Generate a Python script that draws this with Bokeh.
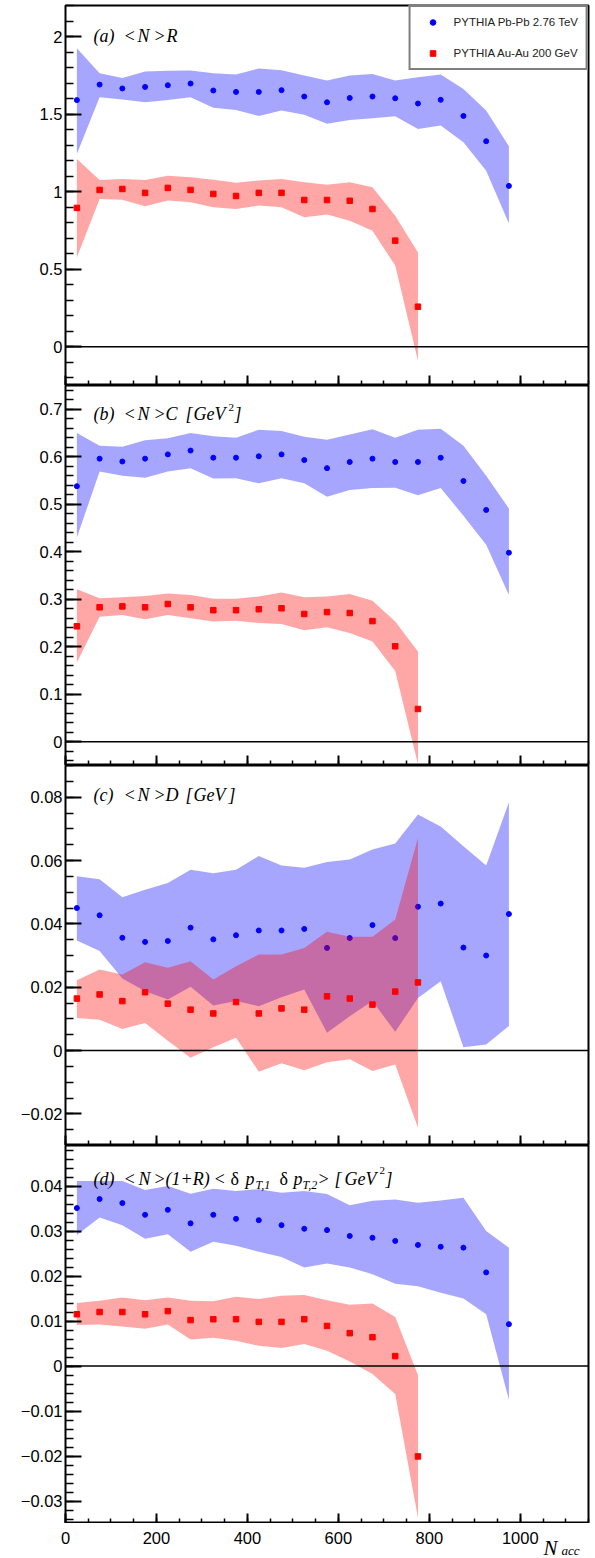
import numpy as np
from bokeh.plotting import figure
from bokeh.models import Range1d, FixedTicker, Label, Legend, LegendItem, Span
from bokeh.layouts import column
from bokeh.embed import file_html
from bokeh.resources import INLINE
from bokeh.core.properties import value

# ---------------- data ----------------
n_pb = [25, 75, 125, 175, 225, 275, 325, 375, 425, 475, 525, 575, 625, 675, 725, 775, 825, 875, 925, 975]
n_au = [25, 75, 125, 175, 225, 275, 325, 375, 425, 475, 525, 575, 625, 675, 725, 775]

# (a) <N>R
pb_R = [1.59, 1.69, 1.665, 1.675, 1.686, 1.697, 1.652, 1.643, 1.643, 1.654, 1.613, 1.576, 1.604, 1.613, 1.602, 1.568, 1.592, 1.488, 1.325, 1.037]
pb_R_hi = [1.925, 1.763, 1.733, 1.774, 1.779, 1.781, 1.763, 1.755, 1.794, 1.783, 1.748, 1.716, 1.748, 1.759, 1.716, 1.737, 1.755, 1.662, 1.523, 1.292]
pb_R_lo = [1.243, 1.608, 1.594, 1.576, 1.591, 1.608, 1.540, 1.527, 1.488, 1.523, 1.495, 1.437, 1.462, 1.473, 1.486, 1.404, 1.426, 1.318, 1.135, 0.795]
au_R = [0.895, 1.011, 1.017, 0.992, 1.024, 1.011, 0.985, 0.972, 0.992, 0.992, 0.946, 0.946, 0.941, 0.888, 0.684, 0.258]
au_R_hi = [1.211, 1.075, 1.082, 1.075, 1.103, 1.092, 1.077, 1.058, 1.071, 1.082, 1.060, 1.045, 1.060, 1.028, 0.845, 0.608]
au_R_lo = [0.576, 0.953, 0.948, 0.905, 0.942, 0.931, 0.899, 0.888, 0.910, 0.899, 0.834, 0.852, 0.813, 0.748, 0.523, -0.090]

# (b) <N>C
pb_C = [0.538, 0.596, 0.590, 0.596, 0.605, 0.613, 0.598, 0.598, 0.601, 0.605, 0.593, 0.576, 0.589, 0.596, 0.589, 0.589, 0.598, 0.549, 0.488, 0.398]
pb_C_hi = [0.650, 0.623, 0.621, 0.635, 0.639, 0.650, 0.643, 0.640, 0.657, 0.654, 0.642, 0.636, 0.647, 0.658, 0.640, 0.657, 0.659, 0.623, 0.560, 0.491]
pb_C_lo = [0.430, 0.569, 0.560, 0.556, 0.569, 0.576, 0.554, 0.555, 0.544, 0.555, 0.544, 0.516, 0.530, 0.534, 0.535, 0.519, 0.534, 0.476, 0.415, 0.309]
au_C = [0.243, 0.283, 0.285, 0.283, 0.290, 0.283, 0.277, 0.277, 0.279, 0.281, 0.269, 0.273, 0.271, 0.254, 0.201, 0.069]
au_C_hi = [0.321, 0.302, 0.304, 0.307, 0.312, 0.309, 0.301, 0.301, 0.306, 0.314, 0.304, 0.306, 0.311, 0.297, 0.253, 0.190]
au_C_lo = [0.167, 0.263, 0.267, 0.258, 0.267, 0.260, 0.253, 0.255, 0.250, 0.248, 0.235, 0.241, 0.229, 0.211, 0.149, -0.047]

# (c) <N>D
pb_D = [0.0450, 0.0427, 0.0356, 0.0343, 0.0346, 0.0388, 0.0351, 0.0364, 0.0379, 0.0379, 0.0384, 0.0324, 0.0355, 0.0396, 0.0355, 0.0454, 0.0464, 0.0325, 0.0300, 0.0431]
pb_D_hi = [0.0550, 0.0541, 0.0484, 0.0508, 0.0529, 0.0571, 0.0560, 0.0571, 0.0614, 0.0584, 0.0577, 0.0595, 0.0603, 0.0635, 0.0654, 0.0745, 0.0707, 0.0645, 0.0584, 0.0784]
pb_D_lo = [0.0347, 0.0314, 0.0227, 0.0187, 0.0161, 0.0201, 0.0142, 0.0156, 0.0140, 0.0168, 0.0193, 0.0056, 0.0108, 0.0156, 0.0059, 0.0166, 0.0219, 0.0010, 0.0019, 0.0077]
au_D = [0.0164, 0.0177, 0.0156, 0.0184, 0.0148, 0.0129, 0.0117, 0.0153, 0.0117, 0.0133, 0.0129, 0.0171, 0.0164, 0.0145, 0.0186, 0.0215]
au_D_hi = [0.0222, 0.0256, 0.0240, 0.0279, 0.0261, 0.0282, 0.0224, 0.0266, 0.0303, 0.0303, 0.0324, 0.0375, 0.0359, 0.0359, 0.0414, 0.0671]
au_D_lo = [0.0103, 0.0097, 0.0068, 0.0087, 0.0031, -0.0023, 0.0010, 0.0040, -0.0067, -0.0040, -0.0062, -0.0037, -0.0028, -0.0065, -0.0044, -0.0244]

# (d) <N>(1+R)<dpT1 dpT2>
pb_P = [0.0351, 0.0371, 0.0362, 0.0336, 0.0347, 0.0317, 0.0336, 0.0327, 0.0324, 0.0313, 0.0305, 0.0302, 0.0289, 0.0285, 0.0278, 0.0269, 0.0265, 0.0263, 0.0208, 0.0093]
pb_P_hi = [0.0411, 0.0411, 0.0411, 0.0391, 0.0400, 0.0383, 0.0394, 0.0389, 0.0393, 0.0385, 0.0389, 0.0382, 0.0357, 0.0367, 0.0370, 0.0363, 0.0368, 0.0374, 0.0300, 0.0263]
pb_P_lo = [0.0291, 0.0330, 0.0313, 0.0283, 0.0293, 0.0254, 0.0276, 0.0267, 0.0254, 0.0242, 0.0219, 0.0228, 0.0219, 0.0204, 0.0183, 0.0177, 0.0163, 0.0150, 0.0115, -0.0075]
au_P = [0.0115, 0.0120, 0.0120, 0.0115, 0.0122, 0.0102, 0.0104, 0.0104, 0.0098, 0.0098, 0.0104, 0.0089, 0.0073, 0.0064, 0.0022, -0.0201]
au_P_hi = [0.0140, 0.0145, 0.0152, 0.0146, 0.0152, 0.0145, 0.0144, 0.0154, 0.0149, 0.0156, 0.0158, 0.0146, 0.0136, 0.0139, 0.0109, -0.0020]
au_P_lo = [0.0091, 0.0092, 0.0088, 0.0083, 0.0092, 0.0059, 0.0063, 0.0056, 0.0045, 0.0040, 0.0049, 0.0034, 0.0010, -0.0018, -0.0062, -0.0337]

# axis ticks / labels
x_ticks = [0, 200, 400, 600, 800, 1000]
x_labels = ["0", "200", "400", "600", "800", "1000"]
ya_ticks = [0, 0.5, 1, 1.5, 2]
ya_labels = ["0", "0.5", "1", "1.5", "2"]
yb_ticks = [0, 0.1, 0.2, 0.3, 0.4, 0.5, 0.6, 0.7]
yb_labels = ["0", "0.1", "0.2", "0.3", "0.4", "0.5", "0.6", "0.7"]
yc_ticks = [-0.02, 0, 0.02, 0.04, 0.06, 0.08]
yc_labels = ["\u22120.02", "0", "0.02", "0.04", "0.06", "0.08"]
yd_ticks = [-0.03, -0.02, -0.01, 0, 0.01, 0.02, 0.03, 0.04]
yd_labels = ["\u22120.03", "\u22120.02", "\u22120.01", "0", "0.01", "0.02", "0.03", "0.04"]

legend_pb = "PYTHIA Pb-Pb 2.76 TeV"
legend_au = "PYTHIA Au-Au 200 GeV"

# ---------------- styling ----------------
BLUE = "#0000ff"
RED = "#ff0000"
TICK_FONT = "Liberation Sans"
TITLE_FONT = "Liberation Serif"
FIG_W = 593
BORDER_L = 65
BORDER_R = 5
X_MAX = 1150
TS = 18  # title font size


def make_panel(ylo, yhi, frame_h, yticks, ylabels, yminor_step, top=0):
    p = figure(width=FIG_W, height=frame_h + top,
               x_range=Range1d(0, X_MAX), y_range=Range1d(ylo, yhi),
               output_backend="svg", toolbar_location=None, title=None,
               min_border_left=BORDER_L, min_border_right=BORDER_R,
               min_border_top=top, min_border_bottom=0)
    p.xgrid.visible = False
    p.ygrid.visible = False
    p.outline_line_color = "black"
    p.outline_line_width = 2
    p.background_fill_color = "white"
    p.border_fill_color = "white"

    xa = p.xaxis[0]
    xa.ticker = FixedTicker(ticks=x_ticks, minor_ticks=list(range(0, X_MAX + 1, 50)))
    xa.axis_line_color = None
    xa.major_tick_in = 10
    xa.major_tick_out = 0
    xa.minor_tick_in = 5
    xa.minor_tick_out = 0
    xa.major_tick_line_width = 2
    xa.minor_tick_line_width = 1.5
    xa.major_tick_line_color = "black"
    xa.minor_tick_line_color = "black"
    xa.major_label_text_font_size = "0px"
    xa.major_label_text_color = None
    xa.major_label_standoff = 0

    ya = p.yaxis[0]
    minor = [round(np.ceil(ylo / yminor_step - 1e-6) * yminor_step + i * yminor_step, 4)
             for i in range(int((yhi - ylo) / yminor_step) + 2)]
    ya.ticker = FixedTicker(ticks=yticks, minor_ticks=minor)
    ya.major_label_overrides = {t: l for t, l in zip(yticks, ylabels)}
    ya.axis_line_color = None
    ya.major_tick_in = 16
    ya.major_tick_out = 0
    ya.minor_tick_in = 8
    ya.minor_tick_out = 0
    ya.major_tick_line_width = 2
    ya.minor_tick_line_width = 1.5
    ya.major_tick_line_color = "black"
    ya.minor_tick_line_color = "black"
    ya.major_label_text_font = TICK_FONT
    ya.major_label_text_font_size = "16.5px"
    ya.major_label_text_color = "black"
    ya.major_label_standoff = 3
    return p


def draw(p, pb, pb_lo, pb_hi, au, au_lo, au_hi):
    p.varea(x=n_pb, y1=pb_lo, y2=pb_hi, fill_color=BLUE, fill_alpha=0.35)
    r_pb = p.scatter(x=n_pb, y=pb, marker="circle", size=5, fill_color=BLUE, line_color=BLUE)
    p.varea(x=n_au, y1=au_lo, y2=au_hi, fill_color=RED, fill_alpha=0.35)
    r_au = p.scatter(x=n_au, y=au, marker="square", size=5.5, fill_color=RED, line_color=RED)
    p.add_layout(Span(location=0, dimension="width", line_color="black", line_width=1.5))
    return r_pb, r_au


def add_title(p, pieces, base):
    for text, x, dy, size, style in pieces:
        p.add_layout(Label(x=x, y=base + dy, x_units="screen", y_units="screen", text=text,
                           text_font=TITLE_FONT, text_font_size=f"{size}px",
                           text_font_style=style, text_color="black",
                           text_align="left", text_baseline="alphabetic"))


# panel a
pa = make_panel(-0.25, 2.2, 380, ya_ticks, ya_labels, 0.1, top=5)
r_pb, r_au = draw(pa, pb_R, pb_R_lo, pb_R_hi, au_R, au_R_lo, au_R_hi)
add_title(pa, [("(a)", 28, 0, TS, "italic"), ("<", 58, 0, TS, "italic"), ("N", 72, 0, TS, "italic"),
               (">", 88, 0, TS, "italic"), ("R", 101, 0, TS, "italic")], 350)
legend = Legend(items=[LegendItem(label=legend_pb, renderers=[r_pb]),
                       LegendItem(label=legend_au, renderers=[r_au])],
                location="top_right", margin=0, padding=8, spacing=17,
                glyph_width=28, glyph_height=14, label_height=14, label_standoff=7,
                border_line_color="black", border_line_width=2,
                background_fill_color="white", background_fill_alpha=1.0,
                label_text_font=TICK_FONT, label_text_font_size="11.5px", label_text_color="#222222")
pa.add_layout(legend)

# panel b
pb_fig = make_panel(-0.05, 0.75, 380, yb_ticks, yb_labels, 0.02)
draw(pb_fig, pb_C, pb_C_lo, pb_C_hi, au_C, au_C_lo, au_C_hi)
add_title(pb_fig, [("(b)", 28, 0, TS, "italic"), ("<", 58, 0, TS, "italic"), ("N", 72, 0, TS, "italic"),
                   (">", 88, 0, TS, "italic"), ("C", 100, 0, TS, "italic"), ("[", 120, 0, TS, "italic"),
                   ("GeV", 128, 0, TS, "italic"), ("2", 163, 6, 11, "normal"), ("]", 169, 0, TS, "italic")], 352)

# panel c
pc = make_panel(-0.03, 0.09, 380, yc_ticks, yc_labels, 0.005)
draw(pc, pb_D, pb_D_lo, pb_D_hi, au_D, au_D_lo, au_D_hi)
add_title(pc, [("(c)", 28, 0, TS, "italic"), ("<", 58, 0, TS, "italic"), ("N", 72, 0, TS, "italic"),
               (">", 88, 0, TS, "italic"), ("D", 100, 0, TS, "italic"), ("[", 120, 0, TS, "italic"),
               ("GeV", 128, 0, TS, "italic"), ("]", 163, 0, TS, "italic")], 351)

# panel d
pd_fig = make_panel(-0.035, 0.049, 378, yd_ticks, yd_labels, 0.002)
draw(pd_fig, pb_P, pb_P_lo, pb_P_hi, au_P, au_P_lo, au_P_hi)
add_title(pd_fig, [("(d)", 28, 0, TS, "italic"), ("<", 58, 0, TS, "italic"), ("N", 73, 0, TS, "italic"),
                   (">", 88, 0, TS, "italic"), ("(1+R)", 100, 0, TS, "italic"), ("<", 148, 0, TS, "italic"),
                   ("\u03b4", 165, 0, TS, "normal"), ("p", 180, 0, TS, "italic"), ("T,1", 190, -6, 12, "italic"),
                   ("\u03b4", 214, 0, TS, "normal"), ("p", 228, 0, TS, "italic"), ("T,2", 237, -6, 12, "italic"),
                   (">", 252, 0, TS, "italic"), ("[", 269, 0, TS, "italic"), ("GeV", 279, 0, TS, "italic"),
                   ("2", 314, 8, 11, "normal"), ("]", 320, 0, TS, "italic")], 345)

# bottom strip: x tick labels of the shared axis and the axis title
px_per_unit = (FIG_W - BORDER_L - BORDER_R) / X_MAX
px = figure(width=FIG_W, height=35,
            x_range=Range1d(-BORDER_L / px_per_unit, X_MAX + BORDER_R / px_per_unit),
            y_range=Range1d(0, 35),
            output_backend="svg", toolbar_location=None, title=None,
            x_axis_location=None, y_axis_location=None,
            min_border_left=0, min_border_right=0, min_border_top=0, min_border_bottom=0)
try:
    px.frame_align = False
except Exception:
    pass
px.xgrid.visible = False
px.ygrid.visible = False
px.outline_line_color = None
px.background_fill_color = "white"
px.border_fill_color = "white"
px.text(x=x_ticks, y=21, text=x_labels, text_align="center", text_baseline="alphabetic",
        text_font=value(TICK_FONT), text_font_size=value("16.5px"), text_color="black")
px.add_layout(Label(x=543, y=11, x_units="screen", y_units="screen", text="N",
                    text_font=TITLE_FONT, text_font_size="21px", text_font_style="italic",
                    text_color="black", text_baseline="alphabetic"))
px.add_layout(Label(x=561, y=8, x_units="screen", y_units="screen", text="acc",
                    text_font=TITLE_FONT, text_font_size="13px", text_font_style="italic",
                    text_color="black", text_baseline="alphabetic"))

layout = column(pa, pb_fig, pc, pd_fig, px, spacing=0)
open("out.html", "w").write(file_html(layout, INLINE))
